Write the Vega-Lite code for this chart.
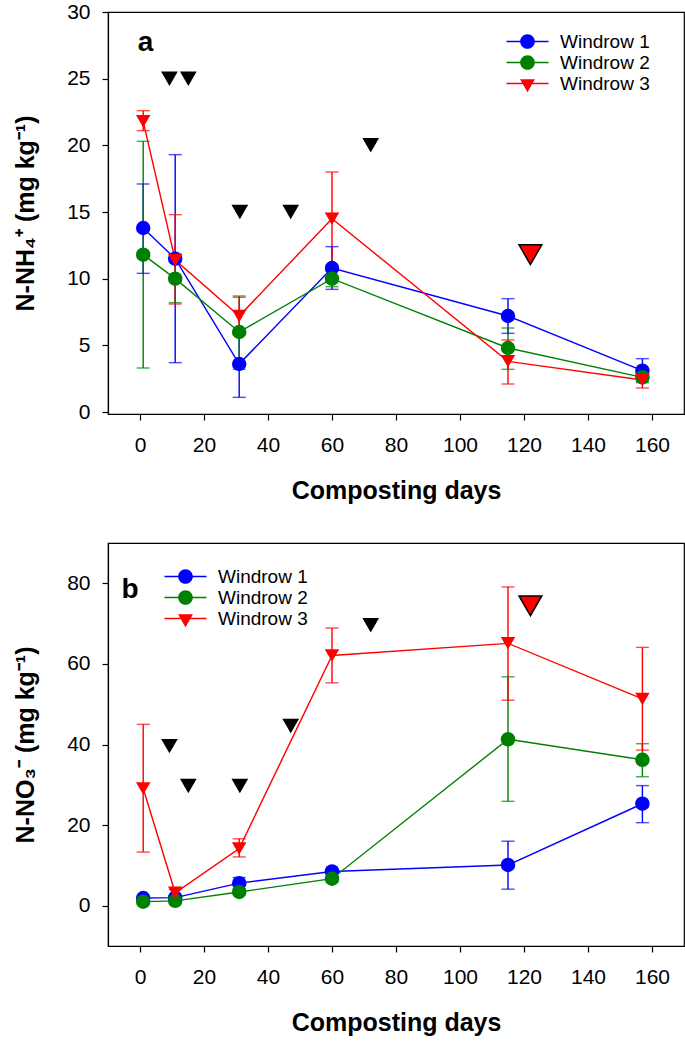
{
  "$schema": "https://vega.github.io/schema/vega-lite/v6.json",
  "padding": {"left": 13, "top": 0, "right": 0, "bottom": 5},
  "background": "white",
  "spacing": 38,
  "config": {
    "font": "Liberation Sans",
    "view": {"stroke": "black", "strokeWidth": 1.2},
    "axis": {
      "grid": false, "domainColor": "black", "domainWidth": 1.2, "tickColor": "black", "tickWidth": 1.2,
      "tickSize": 6, "labelColor": "black", "labelFont": "Liberation Sans", "labelFontSize": 21,
      "titleColor": "black", "titleFont": "Liberation Sans", "titleFontSize": 25, "titleFontWeight": "bold"
    },
    "legend": {"labelFontSize": 19, "labelFont": "Liberation Sans", "labelColor": "black", "symbolSize": 196,
      "rowPadding": 1, "padding": 0, "symbolStrokeWidth": 0, "direction": "vertical", "title": null}
  },
  "datasets": {
    "nh4": [
      {"series": "Windrow 1", "day": 1, "mean": 13.8, "lo": 10.4, "hi": 17.1},
      {"series": "Windrow 1", "day": 11, "mean": 11.5, "lo": 3.7, "hi": 19.3},
      {"series": "Windrow 1", "day": 31, "mean": 3.6, "lo": 1.1, "hi": 6.1},
      {"series": "Windrow 1", "day": 60, "mean": 10.8, "lo": 9.2, "hi": 12.4},
      {"series": "Windrow 1", "day": 115, "mean": 7.2, "lo": 5.9, "hi": 8.5},
      {"series": "Windrow 1", "day": 157, "mean": 3.1, "lo": 2.3, "hi": 4.0},
      {"series": "Windrow 2", "day": 1, "mean": 11.8, "lo": 3.3, "hi": 20.3},
      {"series": "Windrow 2", "day": 11, "mean": 10.0, "lo": 8.2, "hi": 11.8},
      {"series": "Windrow 2", "day": 31, "mean": 6.0, "lo": 3.2, "hi": 8.7},
      {"series": "Windrow 2", "day": 60, "mean": 10.0, "lo": 9.4, "hi": 10.6},
      {"series": "Windrow 2", "day": 115, "mean": 4.8, "lo": 3.2, "hi": 6.3},
      {"series": "Windrow 2", "day": 157, "mean": 2.6, "lo": 2.2, "hi": 3.0},
      {"series": "Windrow 3", "day": 1, "mean": 21.8, "lo": 21.1, "hi": 22.6},
      {"series": "Windrow 3", "day": 11, "mean": 11.4, "lo": 8.1, "hi": 14.8},
      {"series": "Windrow 3", "day": 31, "mean": 7.2, "lo": 5.8, "hi": 8.6},
      {"series": "Windrow 3", "day": 60, "mean": 14.5, "lo": 11.0, "hi": 18.0},
      {"series": "Windrow 3", "day": 115, "mean": 3.8, "lo": 2.1, "hi": 5.4},
      {"series": "Windrow 3", "day": 157, "mean": 2.4, "lo": 1.8, "hi": 2.9}
    ],
    "no3": [
      {"series": "Windrow 1", "day": 1, "mean": 1.9, "lo": 1.5, "hi": 2.3},
      {"series": "Windrow 1", "day": 11, "mean": 2.0, "lo": 1.6, "hi": 2.4},
      {"series": "Windrow 1", "day": 31, "mean": 5.6, "lo": 4.2, "hi": 7.0},
      {"series": "Windrow 1", "day": 60, "mean": 8.5, "lo": 8.0, "hi": 9.0},
      {"series": "Windrow 1", "day": 115, "mean": 10.1, "lo": 4.1, "hi": 16.0},
      {"series": "Windrow 1", "day": 157, "mean": 25.3, "lo": 20.6, "hi": 29.8},
      {"series": "Windrow 2", "day": 1, "mean": 1.0, "lo": 0.7, "hi": 1.3},
      {"series": "Windrow 2", "day": 11, "mean": 1.2, "lo": 0.9, "hi": 1.5},
      {"series": "Windrow 2", "day": 31, "mean": 3.4, "lo": 3.0, "hi": 3.8},
      {"series": "Windrow 2", "day": 60, "mean": 6.7, "lo": 6.2, "hi": 7.2},
      {"series": "Windrow 2", "day": 115, "mean": 41.3, "lo": 25.9, "hi": 56.8},
      {"series": "Windrow 2", "day": 157, "mean": 36.2, "lo": 32.0, "hi": 40.2},
      {"series": "Windrow 3", "day": 1, "mean": 29.1, "lo": 13.3, "hi": 45.0},
      {"series": "Windrow 3", "day": 11, "mean": 3.2, "lo": 2.5, "hi": 4.0},
      {"series": "Windrow 3", "day": 31, "mean": 14.2, "lo": 12.1, "hi": 16.6},
      {"series": "Windrow 3", "day": 60, "mean": 62.1, "lo": 55.3, "hi": 68.9},
      {"series": "Windrow 3", "day": 115, "mean": 65.1, "lo": 51.0, "hi": 79.1},
      {"series": "Windrow 3", "day": 157, "mean": 51.3, "lo": 38.6, "hi": 64.1}
    ],
    "nh4_marks": [
      {"day": 9.2, "value": 25}, {"day": 15.1, "value": 25}, {"day": 31.2, "value": 15},
      {"day": 47.1, "value": 15}, {"day": 72.1, "value": 20}
    ],
    "nh4_big": [{"day": 122, "value": 11.8}],
    "no3_marks": [
      {"day": 9.2, "value": 39.6}, {"day": 15.1, "value": 29.7}, {"day": 31.2, "value": 29.7},
      {"day": 47.1, "value": 44.6}, {"day": 72.1, "value": 69.6}
    ],
    "no3_big": [{"day": 122, "value": 74.4}],
    "lab_a": [{"day": 1.7, "value": 27.1, "label": "a"}],
    "lab_b": [{"day": -3.1, "value": 76.3, "label": "b"}]
  },
  "vconcat": [
    {
      "width": 576, "height": 402,
      "resolve": {"scale": {"color": "independent", "shape": "independent"}, "legend": {"color": "independent", "shape": "independent"}},
      "layer": [
        {
          "data": {"name": "nh4"},
          "mark": {"type": "line", "strokeWidth": 1.4},
          "encoding": {
            "x": {"field": "day", "type": "quantitative", "scale": {"domain": [-10, 170], "nice": false, "zero": false},
              "axis": {"values": [0, 20, 40, 60, 80, 100, 120, 140, 160], "title": "Composting days", "labelPadding": 14, "titlePadding": 23}},
            "y": {"field": "mean", "type": "quantitative", "scale": {"domain": [-0.15, 30], "nice": false, "zero": false},
              "axis": {"values": [0, 5, 10, 15, 20, 25, 30], "title": "N-NH₄⁺ (mg kg⁻¹)", "labelPadding": 12, "titlePadding": 28}},
            "color": {"field": "series", "type": "nominal", "scale": {"domain": ["Windrow 1", "Windrow 2", "Windrow 3"], "range": ["#0000ff", "#008000", "#ff0000"]}, "legend": null}
          }
        },
        {
          "data": {"name": "nh4"},
          "mark": {"type": "rule", "strokeWidth": 1.4},
          "encoding": {
            "x": {"field": "day", "type": "quantitative"},
            "y": {"field": "lo", "type": "quantitative"},
            "y2": {"field": "hi"},
            "color": {"field": "series", "type": "nominal", "scale": {"domain": ["Windrow 1", "Windrow 2", "Windrow 3"], "range": ["#0000ff", "#008000", "#ff0000"]}, "legend": null}
          }
        },
        {
          "data": {"name": "nh4"},
          "mark": {"type": "tick", "orient": "horizontal", "size": 13, "thickness": 1.4},
          "encoding": {
            "x": {"field": "day", "type": "quantitative"},
            "y": {"field": "lo", "type": "quantitative"},
            "color": {"field": "series", "type": "nominal", "scale": {"domain": ["Windrow 1", "Windrow 2", "Windrow 3"], "range": ["#0000ff", "#008000", "#ff0000"]}, "legend": null}
          }
        },
        {
          "data": {"name": "nh4"},
          "mark": {"type": "tick", "orient": "horizontal", "size": 13, "thickness": 1.4},
          "encoding": {
            "x": {"field": "day", "type": "quantitative"},
            "y": {"field": "hi", "type": "quantitative"},
            "color": {"field": "series", "type": "nominal", "scale": {"domain": ["Windrow 1", "Windrow 2", "Windrow 3"], "range": ["#0000ff", "#008000", "#ff0000"]}, "legend": null}
          }
        },
        {
          "data": {"name": "nh4"},
          "mark": {"type": "point", "filled": true, "opacity": 1, "size": 210},
          "encoding": {
            "x": {"field": "day", "type": "quantitative"},
            "y": {"field": "mean", "type": "quantitative"},
            "color": {"field": "series", "type": "nominal", "scale": {"domain": ["Windrow 1", "Windrow 2", "Windrow 3"], "range": ["#0000ff", "#008000", "#ff0000"]}, "legend": null},
            "shape": {"field": "series", "type": "nominal", "scale": {"domain": ["Windrow 1", "Windrow 2", "Windrow 3"], "range": ["circle", "circle", "triangle-down"]}, "legend": null}
          }
        },
        {
          "data": {"name": "nh4"},
          "transform": [{"filter": "false"}],
          "mark": {"type": "point", "filled": true, "opacity": 1},
          "encoding": {
            "x": {"field": "day", "type": "quantitative"},
            "y": {"field": "mean", "type": "quantitative"},
            "color": {"field": "series", "type": "nominal", "scale": {"domain": ["Windrow 1", "Windrow 2", "Windrow 3"], "range": ["#0000ff", "#008000", "#ff0000"]},
              "legend": {"orient": "none", "legendX": 410, "legendY": 20, "labelOffset": 23}},
            "shape": {"field": "series", "type": "nominal", "scale": {"domain": ["Windrow 1", "Windrow 2", "Windrow 3"],
              "range": ["M-1.05,0A1.05,1.05,0,1,1,1.05,0A1.05,1.05,0,1,1,-1.05,0ZM-3,-0.1L-1,-0.1L-1,0.1L-3,0.1ZM1,-0.1L3,-0.1L3,0.1L1,0.1Z",
                        "M-1.05,0A1.05,1.05,0,1,1,1.05,0A1.05,1.05,0,1,1,-1.05,0ZM-3,-0.1L-1,-0.1L-1,0.1L-3,0.1ZM1,-0.1L3,-0.1L3,0.1L1,0.1Z",
                        "M-1.07,-0.62L1.07,-0.62L0,1.24ZM-3,-0.1L-0.7,-0.1L-0.7,0.1L-3,0.1ZM0.7,-0.1L3,-0.1L3,0.1L0.7,0.1Z"]},
              "legend": {"orient": "none", "legendX": 410, "legendY": 20, "labelOffset": 23}}
          }
        },
        {
          "data": {"name": "nh4_marks"},
          "mark": {"type": "point", "shape": "triangle-down", "filled": true, "fill": "black", "opacity": 1, "size": 279, "strokeWidth": 0},
          "encoding": {
            "x": {"field": "day", "type": "quantitative"},
            "y": {"field": "value", "type": "quantitative"}
          }
        },
        {
          "data": {"name": "nh4_big"},
          "mark": {"type": "point", "shape": "triangle-down", "filled": true, "fill": "#ff0000", "stroke": "black", "strokeWidth": 1.5, "opacity": 1, "size": 520},
          "encoding": {
            "x": {"field": "day", "type": "quantitative"},
            "y": {"field": "value", "type": "quantitative"}
          }
        },
        {
          "data": {"name": "lab_a"},
          "mark": {"type": "text", "font": "Liberation Sans", "fontWeight": "bold", "fontSize": 28, "align": "center", "baseline": "alphabetic", "color": "black"},
          "encoding": {
            "x": {"field": "day", "type": "quantitative"},
            "y": {"field": "value", "type": "quantitative"},
            "text": {"field": "label"}
          }
        }
      ]
    },
    {
      "width": 576, "height": 403,
      "resolve": {"scale": {"color": "independent", "shape": "independent"}, "legend": {"color": "independent", "shape": "independent"}},
      "layer": [
        {
          "data": {"name": "no3"},
          "mark": {"type": "line", "strokeWidth": 1.4},
          "encoding": {
            "x": {"field": "day", "type": "quantitative", "scale": {"domain": [-10, 170], "nice": false, "zero": false},
              "axis": {"values": [0, 20, 40, 60, 80, 100, 120, 140, 160], "title": "Composting days", "labelPadding": 14, "titlePadding": 23}},
            "y": {"field": "mean", "type": "quantitative", "scale": {"domain": [-10, 90], "nice": false, "zero": false},
              "axis": {"values": [0, 20, 40, 60, 80], "title": "N-NO₃⁻ (mg kg⁻¹)", "labelPadding": 12, "titlePadding": 28}},
            "color": {"field": "series", "type": "nominal", "scale": {"domain": ["Windrow 1", "Windrow 2", "Windrow 3"], "range": ["#0000ff", "#008000", "#ff0000"]}, "legend": null}
          }
        },
        {
          "data": {"name": "no3"},
          "mark": {"type": "rule", "strokeWidth": 1.4},
          "encoding": {
            "x": {"field": "day", "type": "quantitative"},
            "y": {"field": "lo", "type": "quantitative"},
            "y2": {"field": "hi"},
            "color": {"field": "series", "type": "nominal", "scale": {"domain": ["Windrow 1", "Windrow 2", "Windrow 3"], "range": ["#0000ff", "#008000", "#ff0000"]}, "legend": null}
          }
        },
        {
          "data": {"name": "no3"},
          "mark": {"type": "tick", "orient": "horizontal", "size": 13, "thickness": 1.4},
          "encoding": {
            "x": {"field": "day", "type": "quantitative"},
            "y": {"field": "lo", "type": "quantitative"},
            "color": {"field": "series", "type": "nominal", "scale": {"domain": ["Windrow 1", "Windrow 2", "Windrow 3"], "range": ["#0000ff", "#008000", "#ff0000"]}, "legend": null}
          }
        },
        {
          "data": {"name": "no3"},
          "mark": {"type": "tick", "orient": "horizontal", "size": 13, "thickness": 1.4},
          "encoding": {
            "x": {"field": "day", "type": "quantitative"},
            "y": {"field": "hi", "type": "quantitative"},
            "color": {"field": "series", "type": "nominal", "scale": {"domain": ["Windrow 1", "Windrow 2", "Windrow 3"], "range": ["#0000ff", "#008000", "#ff0000"]}, "legend": null}
          }
        },
        {
          "data": {"name": "no3"},
          "mark": {"type": "point", "filled": true, "opacity": 1, "size": 210},
          "encoding": {
            "x": {"field": "day", "type": "quantitative"},
            "y": {"field": "mean", "type": "quantitative"},
            "color": {"field": "series", "type": "nominal", "scale": {"domain": ["Windrow 1", "Windrow 2", "Windrow 3"], "range": ["#0000ff", "#008000", "#ff0000"]}, "legend": null},
            "shape": {"field": "series", "type": "nominal", "scale": {"domain": ["Windrow 1", "Windrow 2", "Windrow 3"], "range": ["circle", "circle", "triangle-down"]}, "legend": null}
          }
        },
        {
          "data": {"name": "no3"},
          "transform": [{"filter": "false"}],
          "mark": {"type": "point", "filled": true, "opacity": 1},
          "encoding": {
            "x": {"field": "day", "type": "quantitative"},
            "y": {"field": "mean", "type": "quantitative"},
            "color": {"field": "series", "type": "nominal", "scale": {"domain": ["Windrow 1", "Windrow 2", "Windrow 3"], "range": ["#0000ff", "#008000", "#ff0000"]},
              "legend": {"orient": "none", "legendX": 68, "legendY": 24, "labelOffset": 23}},
            "shape": {"field": "series", "type": "nominal", "scale": {"domain": ["Windrow 1", "Windrow 2", "Windrow 3"],
              "range": ["M-1.05,0A1.05,1.05,0,1,1,1.05,0A1.05,1.05,0,1,1,-1.05,0ZM-3,-0.1L-1,-0.1L-1,0.1L-3,0.1ZM1,-0.1L3,-0.1L3,0.1L1,0.1Z",
                        "M-1.05,0A1.05,1.05,0,1,1,1.05,0A1.05,1.05,0,1,1,-1.05,0ZM-3,-0.1L-1,-0.1L-1,0.1L-3,0.1ZM1,-0.1L3,-0.1L3,0.1L1,0.1Z",
                        "M-1.07,-0.62L1.07,-0.62L0,1.24ZM-3,-0.1L-0.7,-0.1L-0.7,0.1L-3,0.1ZM0.7,-0.1L3,-0.1L3,0.1L0.7,0.1Z"]},
              "legend": {"orient": "none", "legendX": 68, "legendY": 24, "labelOffset": 23}}
          }
        },
        {
          "data": {"name": "no3_marks"},
          "mark": {"type": "point", "shape": "triangle-down", "filled": true, "fill": "black", "opacity": 1, "size": 279, "strokeWidth": 0},
          "encoding": {
            "x": {"field": "day", "type": "quantitative"},
            "y": {"field": "value", "type": "quantitative"}
          }
        },
        {
          "data": {"name": "no3_big"},
          "mark": {"type": "point", "shape": "triangle-down", "filled": true, "fill": "#ff0000", "stroke": "black", "strokeWidth": 1.5, "opacity": 1, "size": 520},
          "encoding": {
            "x": {"field": "day", "type": "quantitative"},
            "y": {"field": "value", "type": "quantitative"}
          }
        },
        {
          "data": {"name": "lab_b"},
          "mark": {"type": "text", "font": "Liberation Sans", "fontWeight": "bold", "fontSize": 28, "align": "center", "baseline": "alphabetic", "color": "black"},
          "encoding": {
            "x": {"field": "day", "type": "quantitative"},
            "y": {"field": "value", "type": "quantitative"},
            "text": {"field": "label"}
          }
        }
      ]
    }
  ],
  "resolve": {"legend": {"color": "independent", "shape": "independent"}, "scale": {"color": "independent", "shape": "independent"}}
}
